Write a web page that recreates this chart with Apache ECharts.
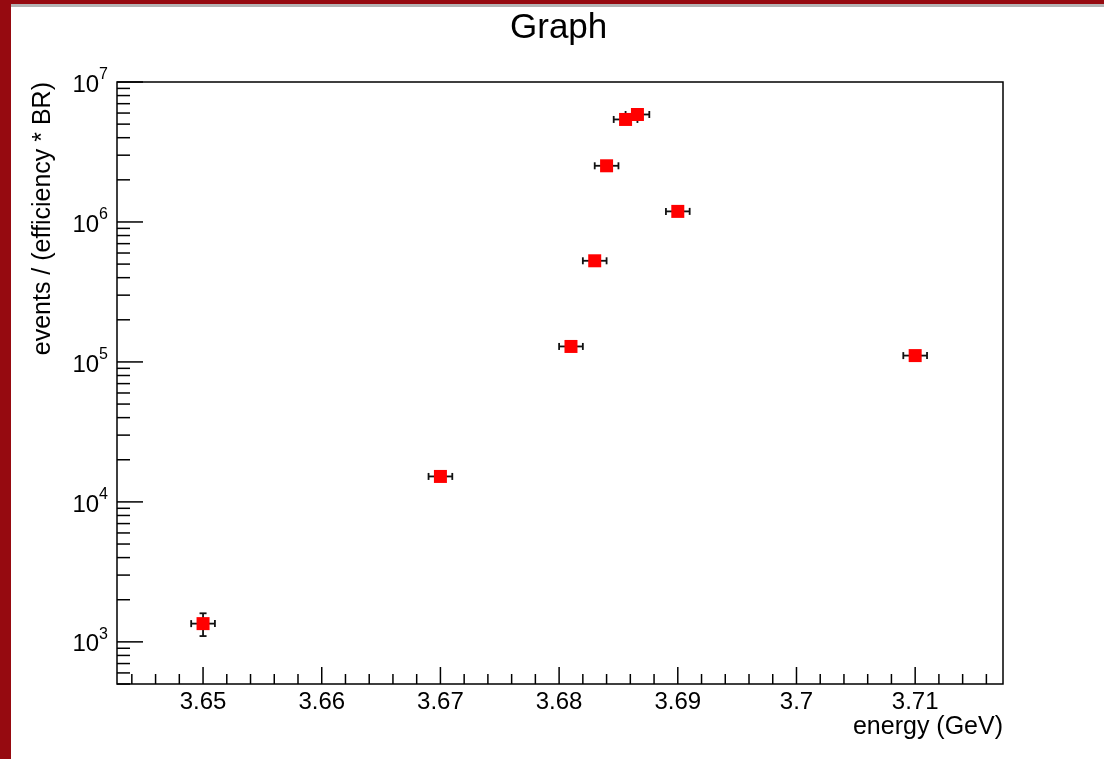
<!DOCTYPE html>
<html>
<head>
<meta charset="utf-8">
<script src="https://cdn.jsdelivr.net/npm/echarts@6/dist/echarts.min.js"></script>
<style>html,body{margin:0;padding:0;background:#fff;}#c{width:1104px;height:759px;}</style>
</head>
<body>
<div id="c"></div>
<script>
// ---- data ----
const energy = [3.65, 3.67, 3.681, 3.683, 3.684, 3.6856, 3.6866, 3.69, 3.71];
const events = [1350, 15200, 129000, 528000, 2520000, 5400000, 5860000, 1190000, 111000];
const energyErr = [0.001, 0.001, 0.001, 0.001, 0.001, 0.001, 0.001, 0.001, 0.001];
const eventsErr = [250, 600, 4000, 15000, 60000, 110000, 120000, 30000, 4000];
const xMajorTicks = [3.65, 3.66, 3.67, 3.68, 3.69, 3.70, 3.71];
const yMajorTicks = [1e3, 1e4, 1e5, 1e6, 1e7];
const xMin = 3.64275, xMax = 3.7174;
const yMin = 500, yMax = 1e7;

const FONT = '"Liberation Sans", Arial, Helvetica, sans-serif';

// minor ticks (axis decoration)
const xMinorTicks = [];
for (let i = 0; i <= 36; i++) {
  const v = +(3.644 + i * 0.002).toFixed(3);
  if (Math.abs(v * 100 - Math.round(v * 100)) > 1e-6) xMinorTicks.push(v);
}
const yMinorTicks = [];
for (let k = 2; k <= 6; k++) for (let m = 2; m <= 9; m++) {
  const v = m * Math.pow(10, k);
  if (v >= yMin && v <= yMax) yMinorTicks.push(v);
}

const tickData = [];
xMajorTicks.forEach(v => tickData.push([v, yMin, 17, 0]));
xMinorTicks.forEach(v => tickData.push([v, yMin, 10, 0]));
yMajorTicks.forEach(v => tickData.push([xMin, v, 26, 1]));
yMinorTicks.forEach(v => tickData.push([xMin, v, 13, 1]));

const pts = energy.map((x, i) => [x, events[i]]);
const errData = energy.map((x, i) => [x, events[i], energyErr[i], eventsErr[i]]);

const chart = echarts.init(document.getElementById('c'), null, {renderer: 'canvas'});
chart.setOption({
  animation: false,
  backgroundColor: '#fff',
  title: {
    text: 'Graph', left: 510, top: 11, padding: 0,
    textStyle: {fontSize: 35, fontWeight: 'normal', color: '#000', fontFamily: FONT}
  },
  graphic: [
    {type: 'rect', left: 0, top: 0, shape: {width: 11, height: 759}, style: {fill: '#960a10'}, z: 100},
    {type: 'rect', left: 0, top: 0, shape: {width: 1104, height: 4}, style: {fill: '#960a10'}, z: 100},
    {type: 'rect', left: 11, top: 4, shape: {width: 1093, height: 3}, style: {fill: '#b4b4b4'}, z: 100}
  ],
  grid: {
    left: 117, top: 82, right: 101, bottom: 75,
    show: true, borderColor: '#000', borderWidth: 1.5, backgroundColor: 'transparent'
  },
  xAxis: {
    type: 'value', min: xMin, max: xMax, interval: 0.00025,
    axisLine: {show: false}, axisTick: {show: false}, splitLine: {show: false},
    axisLabel: {
      margin: 6, color: '#000', fontSize: 24, fontFamily: FONT,
      showMinLabel: false, showMaxLabel: false,
      formatter: function (v) {
        if (Math.abs(v * 100 - Math.round(v * 100)) < 1e-6) return String(+v.toFixed(2));
        return '';
      }
    },
    name: 'energy (GeV)', nameLocation: 'end', nameGap: 0, nameMoveOverlap: false,
    nameTextStyle: {color: '#000', fontSize: 25, fontFamily: FONT, align: 'right', verticalAlign: 'top', padding: [31, 0, 0, 0]}
  },
  yAxis: {
    type: 'log', logBase: 10, min: yMin, max: yMax,
    axisLine: {show: false}, axisTick: {show: false}, splitLine: {show: false}, minorTick: {show: false},
    axisLabel: {
      margin: 9, color: '#000', fontFamily: FONT,
      formatter: function (v) {
        const e = Math.round(Math.log10(v));
        if (Math.abs(v - Math.pow(10, e)) / Math.pow(10, e) < 1e-6) return '{b|10}{s|' + e + '}';
        return '';
      },
      rich: {
        b: {fontSize: 24, lineHeight: 30, verticalAlign: 'bottom', color: '#000', fontFamily: FONT},
        s: {fontSize: 16, lineHeight: 14, verticalAlign: 'top', color: '#000', fontFamily: FONT}
      }
    },
    name: 'events / (efficiency * BR)', nameLocation: 'end', nameGap: 0, nameRotate: 90, nameMoveOverlap: false,
    nameTextStyle: {color: '#000', fontSize: 25, fontFamily: FONT, align: 'right', verticalAlign: 'bottom', padding: [0, 0, 61, 0]}
  },
  series: [
    {
      type: 'custom', name: 'ticks', clip: false, silent: true, z: 5,
      data: tickData, encode: {x: 0, y: 1},
      renderItem: function (params, api) {
        const p = api.coord([api.value(0), api.value(1)]);
        const len = api.value(2), dir = api.value(3);
        const shape = dir === 0
          ? {x1: p[0], y1: p[1], x2: p[0], y2: p[1] - len}
          : {x1: p[0], y1: p[1], x2: p[0] + len, y2: p[1]};
        return {type: 'line', shape: shape, style: {stroke: '#000', lineWidth: 1.5}};
      }
    },
    {
      type: 'custom', name: 'errors', clip: false, silent: true, z: 6,
      data: errData, encode: {x: 0, y: 1},
      renderItem: function (params, api) {
        const x = api.value(0), y = api.value(1), ex = api.value(2), ey = api.value(3);
        const l = api.coord([x - ex, y]), r = api.coord([x + ex, y]);
        const t = api.coord([x, y + ey]), b = api.coord([x, y - ey]);
        const st = {stroke: '#111', lineWidth: 1.8};
        const cap = 3.5;
        return {
          type: 'group',
          children: [
            {type: 'line', shape: {x1: l[0], y1: l[1], x2: r[0], y2: r[1]}, style: st},
            {type: 'line', shape: {x1: l[0], y1: l[1] - cap, x2: l[0], y2: l[1] + cap}, style: st},
            {type: 'line', shape: {x1: r[0], y1: r[1] - cap, x2: r[0], y2: r[1] + cap}, style: st},
            {type: 'line', shape: {x1: t[0], y1: t[1], x2: b[0], y2: b[1]}, style: st},
            {type: 'line', shape: {x1: t[0] - cap, y1: t[1], x2: t[0] + cap, y2: t[1]}, style: st},
            {type: 'line', shape: {x1: b[0] - cap, y1: b[1], x2: b[0] + cap, y2: b[1]}, style: st}
          ]
        };
      }
    },
    {
      type: 'scatter', name: 'Graph', data: pts, symbol: 'rect', symbolSize: 13, z: 10,
      itemStyle: {color: '#ff0000', opacity: 1}
    }
  ]
});
</script>
</body>
</html>
